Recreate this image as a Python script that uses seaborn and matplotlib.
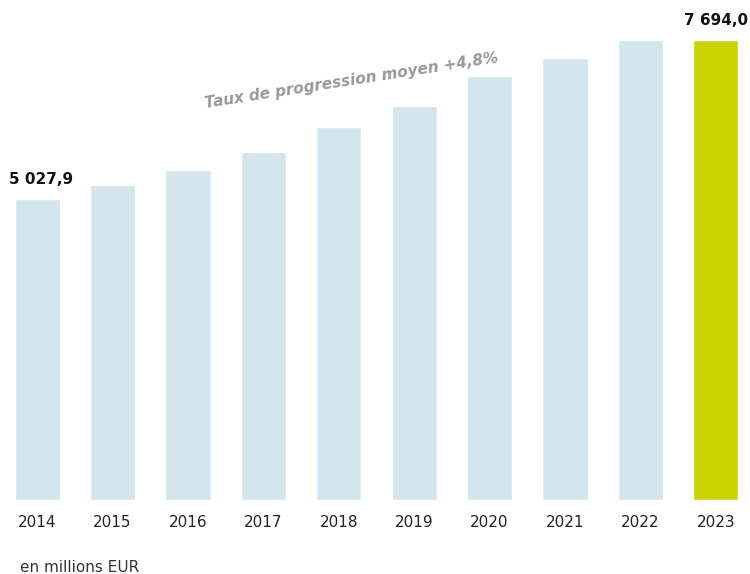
import matplotlib
matplotlib.use("Agg")
import matplotlib.pyplot as plt
import seaborn as sns
import pandas as pd

years = ["2014", "2015", "2016", "2017", "2018", "2019", "2020", "2021", "2022", "2023"]
values = [5027.9, 5270, 5520, 5822, 6240, 6591, 7093, 7394, 7690, 7694.0]
bar_colors = ["#d3e6eb"] * 9 + ["#cbd300"]
value_labels = {0: "5 027,9", 9: "7 694,0"}
trend_text = "Taux de progression moyen +4,8%"
unit_text = "en millions EUR"

sns.set_theme(style="white")
plt.rcParams["font.family"] = ["DejaVu Sans"]

df = pd.DataFrame({"year": years, "value": values})

fig = plt.figure(figsize=(7.5, 5.74), dpi=100)
ax = fig.add_axes([0, 74 / 574, 1, 500 / 574])
sns.barplot(data=df, x="year", y="value", hue="year", palette=bar_colors,
            legend=False, width=0.6, ax=ax, saturation=1)

ax.set_xlim(-0.493, 9.453)
ax.set_ylim(0, 500 * 7694.0 / 460)
for s in ax.spines.values():
    s.set_visible(False)
ax.set_yticks([])
ax.set_xlabel("")
ax.set_ylabel("")
ax.tick_params(axis="x", length=0, pad=11, labelsize=11, labelcolor="#222222")

offsets = {0: 3, 9: 0}
for i, lab in value_labels.items():
    ax.annotate(lab, (i, values[i]), xytext=(offsets[i], 14), textcoords="offset points",
                ha="center", va="center", fontsize=11, fontweight="bold", color="#111111")

fig.text(352 / 750, 1 - 81 / 574, trend_text, rotation=8.9, ha="center", va="center",
         fontsize=11, fontweight="bold", fontstyle="italic", color="#999999")
fig.text(20 / 750, 1 - 567 / 574, unit_text, ha="left", va="center", fontsize=11,
         color="#333333")

fig.savefig("out.png", dpi=100)
